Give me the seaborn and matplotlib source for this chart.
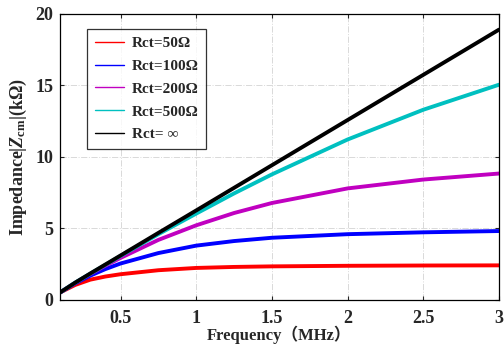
import matplotlib
matplotlib.use('Agg')
import matplotlib.pyplot as plt
import seaborn as sns
import pandas as pd

# Frequency (MHz) and impedance |Zcm| (kOhm)
freq = [0.1, 0.2, 0.3, 0.4, 0.5, 0.75, 1.0, 1.25, 1.5, 2.0, 2.5, 3.0]
z_50 = [0.52, 1.05, 1.42, 1.64, 1.80, 2.08, 2.24, 2.31, 2.35, 2.39, 2.41, 2.42]
z_100 = [0.52, 1.16, 1.70, 2.16, 2.55, 3.28, 3.80, 4.12, 4.35, 4.60, 4.73, 4.82]
z_200 = [0.52, 1.20, 1.82, 2.40, 2.94, 4.20, 5.22, 6.08, 6.78, 7.80, 8.42, 8.84]
z_500 = [0.52, 1.21, 1.84, 2.46, 3.08, 4.60, 6.04, 7.45, 8.78, 11.22, 13.30, 15.05]
z_inf = [0.52, 1.21, 1.85, 2.48, 3.11, 4.69, 6.26, 7.84, 9.42, 12.58, 15.74, 18.90]

labels = ['Rct=50Ω', 'Rct=100Ω', 'Rct=200Ω', 'Rct=500Ω', 'Rct= ∞']
colors = ['#ff0000', '#0000ff', '#c000c0', '#00c0c0', '#000000']

df = pd.DataFrame({'freq': freq * 5,
                   'z': z_50 + z_100 + z_200 + z_500 + z_inf,
                   'case': [l for l in labels for _ in freq]})

sns.set_style('ticks')
plt.rcParams['font.family'] = ['Liberation Serif', 'Noto Sans CJK SC']
plt.rcParams['font.weight'] = 'bold'
plt.rcParams['mathtext.fontset'] = 'custom'
plt.rcParams['mathtext.rm'] = 'Liberation Serif:bold'
plt.rcParams['mathtext.it'] = 'Liberation Serif:bold:italic'

fig = plt.figure(figsize=(5.04, 3.48), dpi=100)
ax = fig.add_axes([0.119, 0.138, 0.871, 0.822])

sns.lineplot(data=df, x='freq', y='z', hue='case', hue_order=labels,
             palette=colors, linewidth=2.8, ax=ax)

ax.set_xlim(0.1, 3)
ax.set_ylim(0, 20)
ax.set_xticks([0.5, 1, 1.5, 2, 2.5, 3])
ax.set_xticklabels(['0.5', '1', '1.5', '2', '2.5', '3'])
ax.set_yticks([0, 5, 10, 15, 20])
ax.grid(True, color='#d9d9d9', linestyle='-.', linewidth=0.7)
ax.tick_params(direction='in', top=True, right=True, labelsize=13, length=3)
ax.tick_params(axis='x', pad=7)
ax.tick_params(axis='y', pad=5)
for sp in ax.spines.values():
    sp.set_visible(True)
    sp.set_color('black')
    sp.set_linewidth(0.9)

ax.set_xlabel('Frequency（MHz）', fontsize=12, fontweight='bold', labelpad=-1)
ax.set_ylabel(r'Impedance$|Z_{\rm cm}|$(kΩ)', fontsize=13, fontweight='bold', labelpad=4)

leg = ax.legend(loc='upper left', bbox_to_anchor=(0.045, 0.975), fontsize=11,
                frameon=True, fancybox=False, edgecolor='black',
                handlelength=1.9, handletextpad=0.5, borderpad=0.5,
                labelspacing=0.6)
leg.get_frame().set_linewidth(0.9)
for h in leg.get_lines():
    h.set_linewidth(1.0)

plt.savefig('out.png', dpi=100)
